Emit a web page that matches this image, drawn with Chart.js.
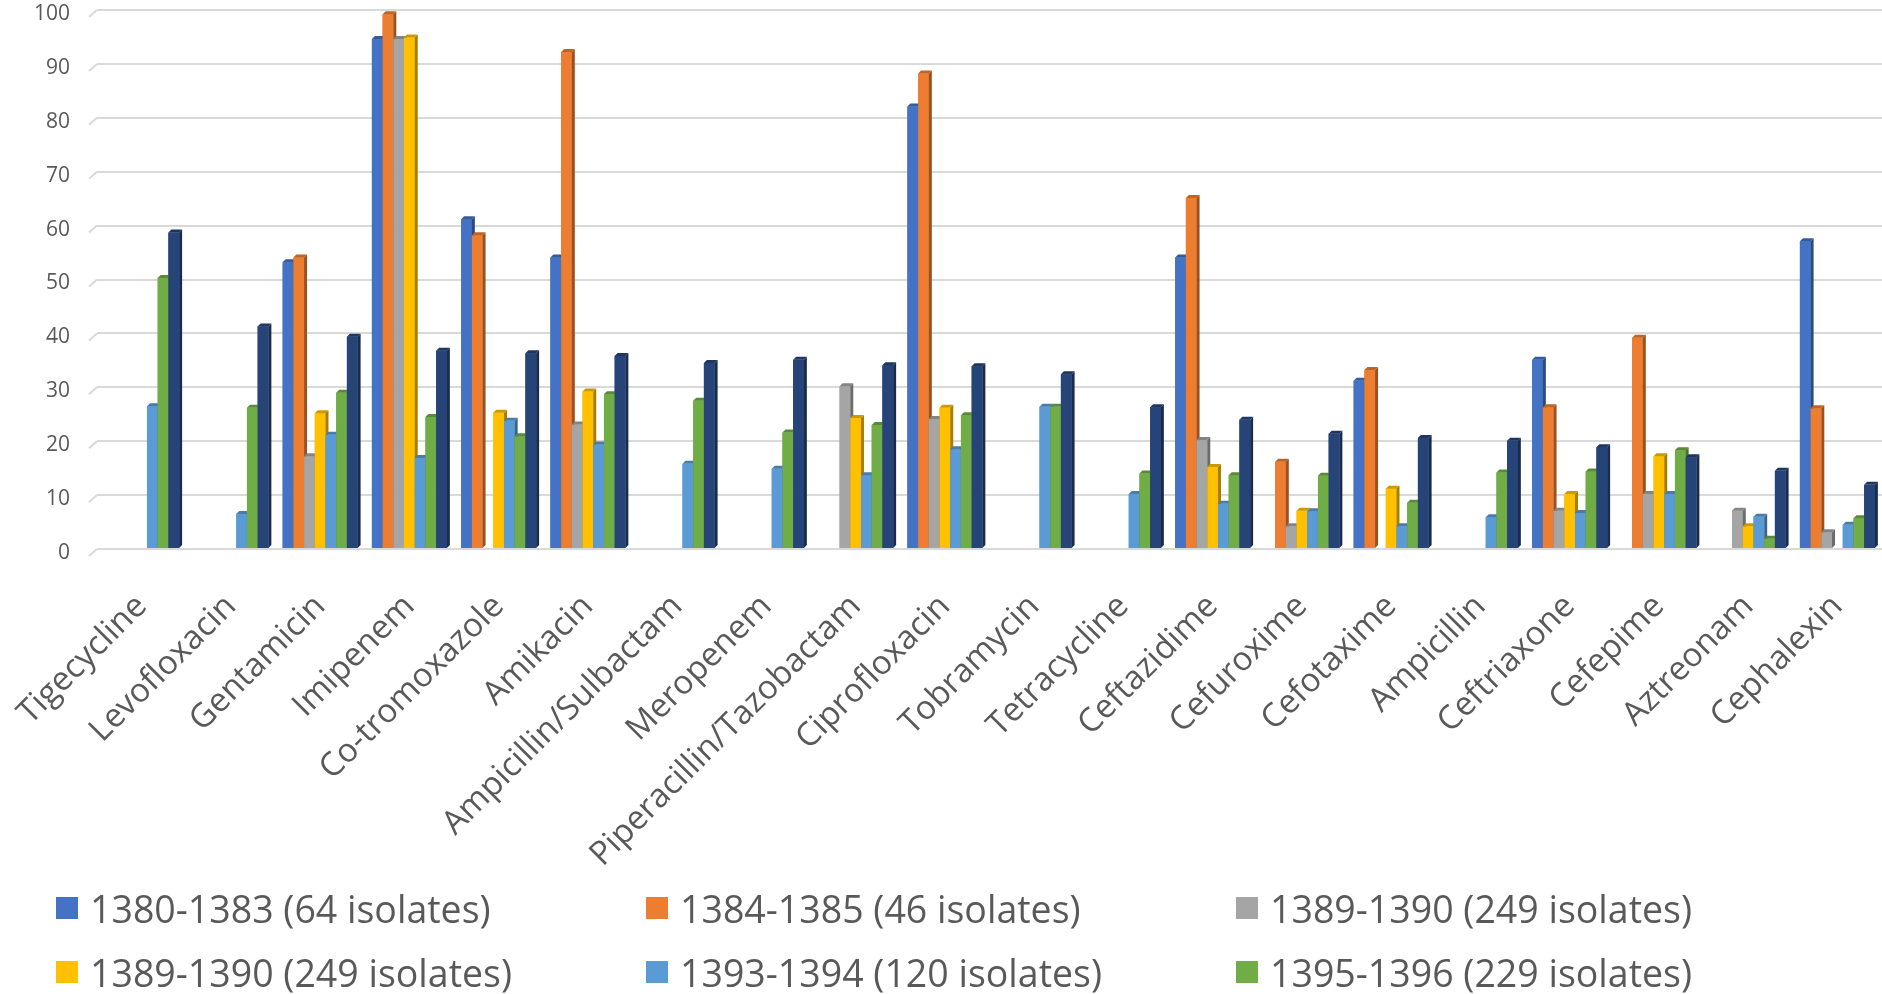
<!DOCTYPE html>
<html lang="en">
<head>
    <meta charset="UTF-8">
    <title>Antibiotic resistance by period</title>
    <script src="https://cdn.jsdelivr.net/npm/chart.js"></script>
    <style>
        html, body { margin: 0; padding: 0; background: #fff; overflow: hidden; }
        body { width: 1882px; height: 994px; position: relative; font-family: "Open Sans", sans-serif; }
        .chart-box { position: absolute; left: 0; top: 0; width: 1882px; height: 880px; }
        #legend {
            position: absolute; left: 56px; top: 876px;
            display: grid; grid-template-columns: 590px 590px 590px; grid-auto-rows: 64px;
        }
        #legend .item { display: flex; align-items: center; font-size: 37.5px; color: #595959; white-space: nowrap; }
        #legend .box { width: 22px; height: 22px; margin-right: 12px; flex: none; }
    </style>
</head>
<body>
    <div class="chart-box">
        <canvas id="resistChart"></canvas>
    </div>
    <div id="legend"></div>

    <script>
        // categories (antibiotics)
        const drugs = ['Tigecycline', 'Levofloxacin', 'Gentamicin', 'Imipenem', 'Co-tromoxazole', 'Amikacin',
            'Ampicillin/Sulbactam', 'Meropenem', 'Piperacillin/Tazobactam', 'Ciprofloxacin', 'Tobramycin',
            'Tetracycline', 'Ceftazidime', 'Cefuroxime', 'Cefotaxime', 'Ampicillin', 'Ceftriaxone',
            'Cefepime', 'Aztreonam', 'Cephalexin'];

        // series labels, as in the legend (last one falls off the bottom of the picture)
        const periods = ['1380-1383 (64 isolates)', '1384-1385 (46 isolates)', '1389-1390 (249 isolates)',
            '1389-1390 (249 isolates)', '1393-1394 (120 isolates)', '1395-1396 (229 isolates)', '1397-1398'];

        // resistance % per period, null = not tested
        const p1380 = [null, null, 53.2, 94.6, 61.2, 54.1, null, null, null, 82.1, null, null, 54.1, null, 31.2, null, 35.1, null, null, 57.1];
        const p1384 = [null, null, 54.1, 99.2, 58.2, 92.2, null, null, null, 88.2, null, null, 65.1, 16.2, 33.2, null, 26.3, 39.2, null, 26.1];
        const p1389a = [null, null, 17.2, 94.6, null, 23.1, null, null, 30.2, 24.1, null, null, 20.2, 4.2, null, null, 7.1, 10.2, 7.1, 3.1];
        const p1389b = [null, null, 25.2, 94.9, 25.3, 29.2, null, null, 24.3, 26.2, null, null, 15.2, 7.1, 11.2, null, 10.2, 17.2, 4.2, null];
        const p1393 = [26.5, 6.5, 21.2, 16.9, 23.8, 19.4, 15.8, 14.9, 13.7, 18.5, 26.4, 10.2, 8.4, 7, 4.2, 5.9, 6.7, 10.2, 6, 4.5];
        const p1395 = [50.3, 26.2, 29, 24.5, 20.9, 28.7, 27.5, 21.6, 23, 24.8, 26.4, 14, 13.7, 13.6, 8.6, 14.2, 14.4, 18.3, 1.9, 5.7];
        const p1397 = [58.7, 41.3, 39.4, 36.8, 36.3, 35.8, 34.5, 35.1, 34.1, 33.9, 32.4, 26.3, 24, 21.4, 20.6, 20.1, 18.9, 17, 14.5, 11.9];

        const yTicks = [0, 10, 20, 30, 40, 50, 60, 70, 80, 90, 100];

        const seriesData = [p1380, p1384, p1389a, p1389b, p1393, p1395, p1397];
        const colors = ['#4472C4', '#ED7D31', '#A5A5A5', '#FFC000', '#5B9BD5', '#70AD47', '#264478'];

        // darken a hex colour for the fake 3d faces
        function shade(hex, f) {
            const n = parseInt(hex.slice(1), 16);
            const r = Math.round(((n >> 16) & 255) * f);
            const g = Math.round(((n >> 8) & 255) * f);
            const b = Math.round((n & 255) * f);
            return `rgb(${r},${g},${b})`;
        }

        const DEPTH = 3;

        // redraws every bar with a side and a top face, dataset by dataset so later bars cover earlier sides
        const bars3d = {
            id: 'bars3d',
            beforeDatasetsDraw(chart) {
                const ctx = chart.ctx;
                const y = chart.scales.y;
                ctx.save();
                ctx.strokeStyle = '#d9d9d9';
                ctx.lineWidth = 2;
                yTicks.forEach(v => {
                    const py = y.getPixelForValue(v);
                    ctx.beginPath();
                    ctx.moveTo(y.right - 8, py + 7);
                    ctx.lineTo(y.right, py);
                    ctx.stroke();
                });
                ctx.restore();
            },
            afterDatasetsDraw(chart) {
                const ctx = chart.ctx;
                ctx.save();
                chart.data.datasets.forEach((ds, di) => {
                    const meta = chart.getDatasetMeta(di);
                    meta.data.forEach((bar, i) => {
                        if (ds.data[i] == null) return;
                        const p = bar.getProps(['x', 'y', 'base', 'width'], true);
                        const l = p.x - p.width / 2;
                        const r = p.x + p.width / 2;
                        ctx.fillStyle = colors[di];
                        ctx.fillRect(l, p.y, p.width, p.base - p.y);
                        ctx.fillStyle = shade(colors[di], 0.65);
                        ctx.beginPath();
                        ctx.moveTo(r, p.y);
                        ctx.lineTo(r + DEPTH, p.y - DEPTH);
                        ctx.lineTo(r + DEPTH, p.base - DEPTH);
                        ctx.lineTo(r, p.base);
                        ctx.closePath();
                        ctx.fill();
                        ctx.fillStyle = shade(colors[di], 0.8);
                        ctx.beginPath();
                        ctx.moveTo(l, p.y);
                        ctx.lineTo(l + DEPTH, p.y - DEPTH);
                        ctx.lineTo(r + DEPTH, p.y - DEPTH);
                        ctx.lineTo(r, p.y);
                        ctx.closePath();
                        ctx.fill();
                    });
                });
                ctx.restore();
            }
        };

        const datasets = seriesData.map((d, i) => ({
            label: periods[i],
            data: d,
            backgroundColor: colors[i],
            borderWidth: 0,
            categoryPercentage: 0.84,
            barPercentage: 1.0
        }));

        const ctx = document.getElementById('resistChart').getContext('2d');
        new Chart(ctx, {
            type: 'bar',
            data: { labels: drugs, datasets: datasets },
            options: {
                responsive: true,
                maintainAspectRatio: false,
                animation: false,
                layout: { padding: { top: 10, right: 0, left: 0, bottom: 0 } },
                plugins: {
                    legend: { display: false },
                    tooltip: { enabled: false }
                },
                scales: {
                    x: {
                        grid: { display: false },
                        border: { display: false },
                        ticks: {
                            autoSkip: false,
                            maxRotation: 45,
                            minRotation: 45,
                            padding: 30,
                            color: '#595959',
                            font: { family: 'Open Sans', size: 33 }
                        },
                        afterFit(scale) {
                            scale.height = 331;
                            scale.paddingLeft = 0;
                            scale.paddingRight = 0;
                        }
                    },
                    y: {
                        min: 0,
                        max: 100,
                        afterBuildTicks(scale) { scale.ticks = yTicks.map(v => ({ value: v })); },
                        grid: { color: '#d9d9d9', lineWidth: 2, drawTicks: false },
                        border: { display: false },
                        ticks: {
                            padding: 27,
                            labelOffset: 4,
                            color: '#595959',
                            font: { family: 'Open Sans', size: 21 }
                        },
                        afterFit(scale) {
                            scale.width = 97;
                            scale.paddingTop = 0;
                            scale.paddingBottom = 0;
                        }
                    }
                }
            },
            plugins: [bars3d]
        });

        // html legend, three columns like the original
        const legend = document.getElementById('legend');
        periods.forEach((name, i) => {
            const item = document.createElement('div');
            item.className = 'item';
            item.innerHTML = `<span class="box" style="background:${colors[i]}"></span>${name}`;
            legend.appendChild(item);
        });
    </script>
</body>
</html>
